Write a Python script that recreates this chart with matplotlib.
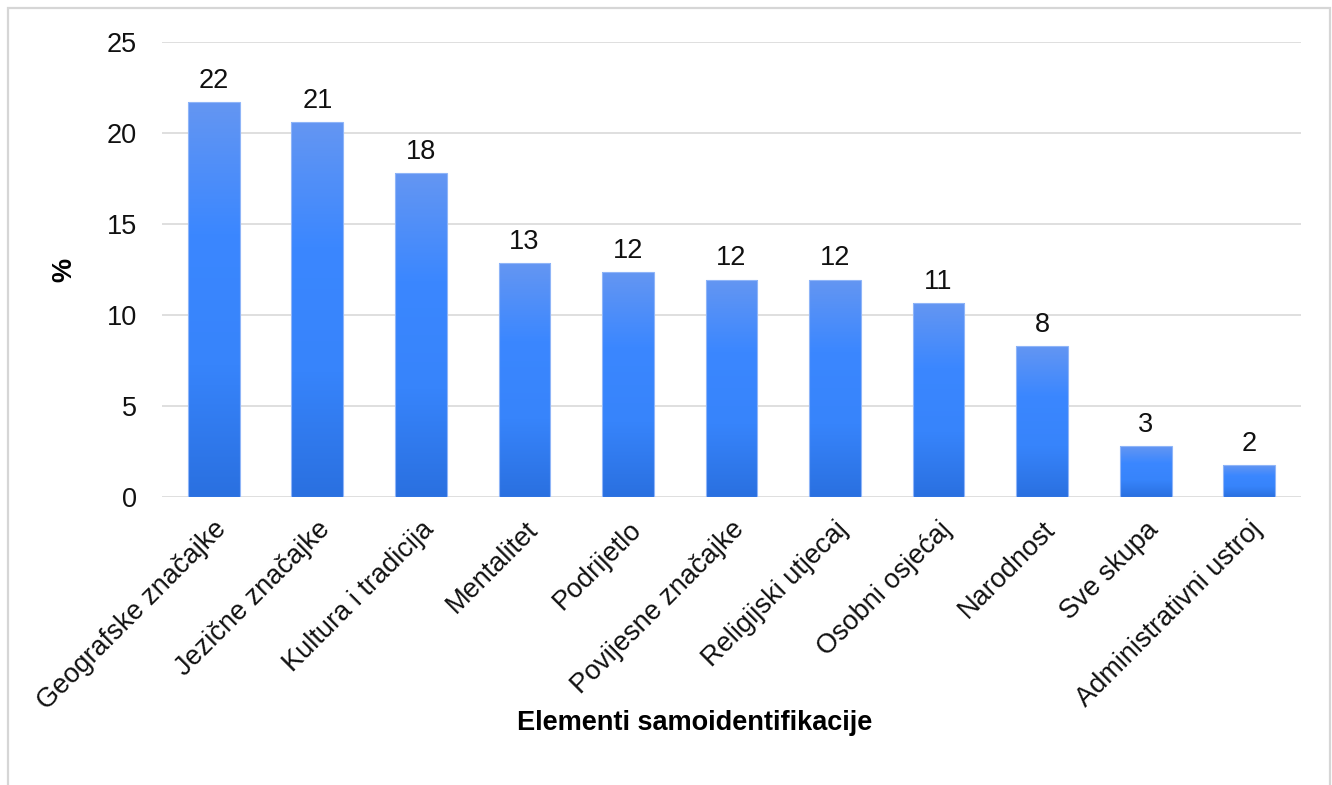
import numpy as np
import matplotlib
matplotlib.use('Agg')
import matplotlib.pyplot as plt
from matplotlib.colors import LinearSegmentedColormap
from matplotlib.patches import Rectangle

plt.rcParams['font.family'] = ['Liberation Sans', 'DejaVu Sans']

categories = ['Geografske značajke', 'Jezične značajke', 'Kultura i tradicija',
              'Mentalitet', 'Podrijetlo', 'Povijesne značajke', 'Religijski utjecaj',
              'Osobni osjećaj', 'Narodnost', 'Sve skupa', 'Administrativni ustroj']
values = [21.7, 20.6, 17.8, 12.85, 12.35, 11.95, 11.95, 10.65, 8.3, 2.8, 1.75]
labels = ['22', '21', '18', '13', '12', '12', '12', '11', '8', '3', '2']
yticks = [0, 5, 10, 15, 20, 25]

FS = 19.5
W, H = 1332, 785
fig = plt.figure(figsize=(W / 100, H / 100), dpi=100)
ax = fig.add_axes([162 / W, 1 - 497 / H, (1301 - 162) / W, (497 - 42) / H])

# figure frame (light gray)
fig.patches.append(Rectangle((8 / W, -0.02), (1330 - 8) / W, 1 - 8 / H + 0.02,
                             transform=fig.transFigure, fill=False,
                             edgecolor='#d6d6d6', linewidth=1.6, zorder=0))

cmap = LinearSegmentedColormap.from_list('grad', ['#2a70e0', '#3784fb', '#3b87ff', '#6496f2'])
grad = np.linspace(0, 1, 256).reshape(-1, 1)

x = np.arange(len(categories))
bars = ax.bar(x, values, width=0.5, color='none', edgecolor='#8fb5f8', linewidth=0.8, zorder=3)
for b in bars:
    x0, w, h = b.get_x(), b.get_width(), b.get_height()
    im = ax.imshow(grad, cmap=cmap, origin='lower', aspect='auto',
                   extent=(x0, x0 + w, 0, h), zorder=2, interpolation='bilinear')
    im.set_clip_path(b)

for xi, v, lab in zip(x, values, labels):
    ax.annotate(lab, (xi, v), xytext=(0, 6), textcoords='offset points',
                ha='center', va='bottom', fontsize=FS, color='#111111')

ax.set_xlim(-0.5, len(categories) - 0.5)
ax.set_ylim(0, 25)
ax.set_yticks(yticks)
ax.set_xticks(x)
ax.set_xticklabels(categories, rotation=45, ha='right', rotation_mode='anchor', fontsize=FS)
ax.tick_params(axis='both', length=0, labelsize=FS, colors='#111111')
ax.tick_params(axis='y', pad=18)
ax.tick_params(axis='x', pad=14)
ax.grid(axis='y', color='#d9d9d9', linewidth=1.2, zorder=0)
ax.set_axisbelow(True)
for s in ax.spines.values():
    s.set_visible(False)

fig.text(64 / W, 1 - 270 / H, '%', rotation=90, ha='center', va='center',
         fontsize=FS, fontweight='bold')
fig.text(695 / W, 1 - 723 / H, 'Elementi samoidentifikacije', ha='center', va='center',
         fontsize=FS, fontweight='bold')

fig.savefig('out.png', dpi=100)
